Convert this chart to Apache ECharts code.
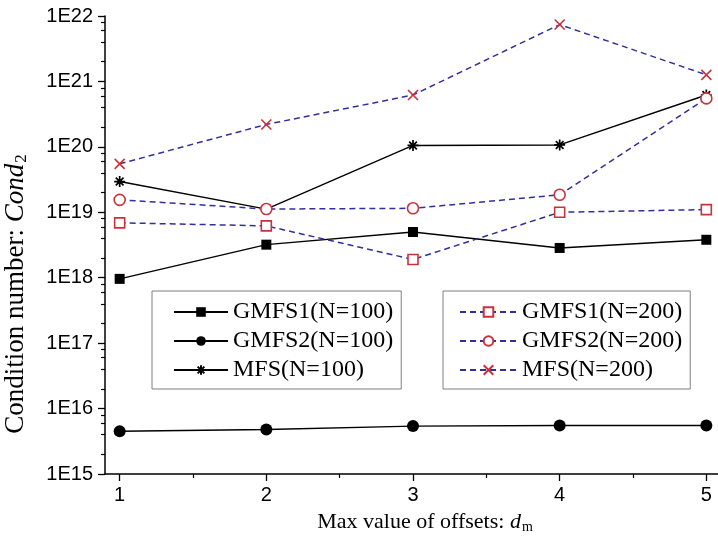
<!DOCTYPE html>
<html>
<head>
<meta charset="utf-8">
<script src="https://cdn.jsdelivr.net/npm/echarts@6/dist/echarts.min.js"></script>
<style>
  html, body { margin: 0; padding: 0; background: #fff; }
  #chart { width: 718px; height: 543px; }
</style>
</head>
<body>
<div id="chart"></div>
<script>
// Max value of offsets d_m
const offsets = [1, 2, 3, 4, 5];

// Condition numbers, N = 100
const gmfs1N100 = [9.6e17, 3.2e18, 5.0e18, 2.85e18, 3.8e18];
const gmfs2N100 = [4.5e15, 4.8e15, 5.4e15, 5.5e15, 5.5e15];
const mfsN100   = [2.95e19, 1.12e19, 1.05e20, 1.07e20, 6.2e20];

// Condition numbers, N = 200
const gmfs1N200 = [6.9e18, 6.2e18, 1.9e18, 1.0e19, 1.1e19];
const gmfs2N200 = [1.55e19, 1.12e19, 1.15e19, 1.85e19, 5.5e20];
const mfsN200   = [5.5e19, 2.2e20, 6.2e20, 7.4e21, 1.26e21];

// Axis ticks
const xMajorTicks = [1, 2, 3, 4, 5];
const xMinorTicks = [1.5, 2.5, 3.5, 4.5];
const yDecades = [15, 16, 17, 18, 19, 20, 21, 22];
const yTickLabels = ['1E15', '1E16', '1E17', '1E18', '1E19', '1E20', '1E21', '1E22'];
const yMinorMultiples = [2, 4, 6, 8];

const BLACK = '#000000';
const RED = '#c8323c';
const BLUE = '#30309a';
const SERIF = '"Liberation Serif", "Times New Roman", serif';
const SANS = '"Liberation Sans", Arial, sans-serif';

const ASTERISK = 'path://M5,0L5,10M0,5L10,5M1.5,1.5L8.5,8.5M1.5,8.5L8.5,1.5';
const CROSS = 'path://M0,0L10,10M0,10L10,0';

// minor tick positions on the exponent scale of the overlay axis
const yMinorPositions = [];
yDecades.slice(0, -1).forEach(function (d) {
  yMinorMultiples.forEach(function (m) { yMinorPositions.push(d + Math.log10(m)); });
});

function pairs(ys) { return offsets.map(function (x, i) { return [x, ys[i]]; }); }

function solidSeries(name, ys, symbol, size, stroke) {
  return {
    name: name, type: 'line', xAxisIndex: 0, yAxisIndex: 0,
    data: pairs(ys), symbol: symbol, symbolSize: size,
    lineStyle: { color: BLACK, width: 1.4, type: 'solid' },
    itemStyle: stroke
      ? { color: 'none', borderColor: BLACK, borderWidth: 1.7 }
      : { color: BLACK, borderColor: BLACK, borderWidth: 0 },
    emphasis: { disabled: true }, animation: false, z: 2
  };
}

function dashedSeries(name, ys, symbol, size) {
  return {
    name: name, type: 'line', xAxisIndex: 0, yAxisIndex: 0,
    data: pairs(ys), symbol: symbol, symbolSize: size,
    lineStyle: { color: BLUE, width: 1.5, type: [6, 4] },
    itemStyle: { color: symbol.indexOf('path') === 0 ? 'none' : '#ffffff', borderColor: RED, borderWidth: 1.6 },
    emphasis: { disabled: true }, animation: false, z: 3
  };
}

const legendCommon = {
  orient: 'vertical', top: 291,
  itemWidth: 54, itemHeight: 12, itemGap: 5,
  borderColor: '#7f7f7f', borderWidth: 1, borderRadius: 0,
  textStyle: { fontFamily: SERIF, fontSize: 24, color: BLACK },
  selectedMode: false
};

const plotRect = { left: 105, right: -3, top: 16, bottom: 69, containLabel: false, outerBoundsMode: 'none' };

const chart = echarts.init(document.getElementById('chart'), null, { renderer: 'canvas' });

chart.setOption({
  backgroundColor: '#ffffff',
  animation: false,
  grid: [Object.assign({}, plotRect), Object.assign({}, plotRect)],
  legend: [
    Object.assign({}, legendCommon, {
      left: 152, padding: [9, 8, 7, 21],
      data: ['GMFS1(N=100)', 'GMFS2(N=100)', 'MFS(N=100)']
    }),
    Object.assign({}, legendCommon, {
      left: 443, padding: [9, 8, 7, 16], itemWidth: 57,
      data: ['GMFS1(N=200)', 'GMFS2(N=200)', 'MFS(N=200)']
    })
  ],
  xAxis: [
    {
      type: 'value', gridIndex: 0, min: 0.9, max: 5.1, position: 'bottom',
      axisLine: { show: true, lineStyle: { color: BLACK, width: 1.5 } },
      axisTick: { show: true, inside: false, length: 7, lineStyle: { color: BLACK, width: 1.3 }, customValues: xMajorTicks },
      axisLabel: { show: true, margin: 11, fontFamily: SANS, fontSize: 20, color: BLACK, customValues: xMajorTicks },
      splitLine: { show: false },
      name: '{n|Max value of offsets: }{i|d}{s|m}',
      nameLocation: 'middle', nameGap: 33,
      nameTextStyle: {
        fontFamily: SERIF, fontSize: 22, color: BLACK, padding: [0, 0, 0, 24],
        rich: {
          n: { fontFamily: SERIF, fontSize: 22, color: BLACK, lineHeight: 24 },
          i: { fontFamily: SERIF, fontSize: 22, fontStyle: 'italic', color: BLACK, lineHeight: 24 },
          s: { fontFamily: SERIF, fontSize: 14, color: BLACK, verticalAlign: 'bottom', lineHeight: 17, padding: [10, 0, 0, 1] }
        }
      }
    },
    {
      type: 'value', gridIndex: 1, min: 0.9, max: 5.1, position: 'bottom',
      axisLine: { show: false },
      axisTick: { show: true, inside: false, length: 4, lineStyle: { color: BLACK, width: 1.2 }, customValues: xMinorTicks },
      axisLabel: { show: false },
      splitLine: { show: false }
    }
  ],
  yAxis: [
    {
      type: 'log', gridIndex: 0, logBase: 10, min: 1e15, max: 1e22, splitNumber: 7, position: 'left',
      axisLine: { show: true, lineStyle: { color: BLACK, width: 1.5 } },
      axisTick: { show: true, inside: false, length: 7, lineStyle: { color: BLACK, width: 1.3 } },
      axisLabel: {
        show: true, margin: 12, fontFamily: SANS, fontSize: 20, color: BLACK,
        formatter: function (v) {
          const k = yDecades.indexOf(Math.round(Math.log10(v)));
          return k >= 0 ? yTickLabels[k] : '';
        }
      },
      splitLine: { show: false },
      minorTick: { show: false },
      name: '{n|Condition number: }{i|Cond}{s|2}',
      nameLocation: 'middle', nameRotate: 90, nameGap: 75,
      nameTextStyle: {
        fontFamily: SERIF, fontSize: 27, color: BLACK, padding: [0, 98, 0, 0],
        rich: {
          n: { fontFamily: SERIF, fontSize: 27, color: BLACK, lineHeight: 28 },
          i: { fontFamily: SERIF, fontSize: 27, fontStyle: 'italic', color: BLACK, lineHeight: 28 },
          s: { fontFamily: SERIF, fontSize: 17, color: BLACK, verticalAlign: 'bottom', lineHeight: 19, padding: [11, 0, 0, 1] }
        }
      }
    },
    {
      type: 'value', gridIndex: 1, min: 15, max: 22, position: 'left',
      axisLine: { show: false },
      axisTick: { show: true, inside: false, length: 4, lineStyle: { color: BLACK, width: 1.2 }, customValues: yMinorPositions },
      axisLabel: { show: false },
      splitLine: { show: false }
    }
  ],
  series: [
    solidSeries('GMFS1(N=100)', gmfs1N100, 'rect', 10, false),
    solidSeries('GMFS2(N=100)', gmfs2N100, 'circle', 12, false),
    solidSeries('MFS(N=100)', mfsN100, ASTERISK, 11, true),
    dashedSeries('GMFS1(N=200)', gmfs1N200, 'rect', 10),
    dashedSeries('GMFS2(N=200)', gmfs2N200, 'circle', 11),
    dashedSeries('MFS(N=200)', mfsN200, CROSS, 10)
  ]
});
</script>
</body>
</html>
